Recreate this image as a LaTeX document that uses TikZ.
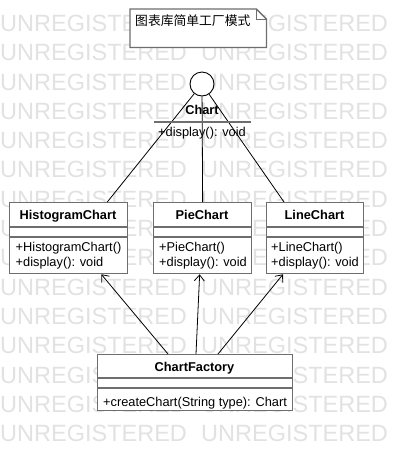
\documentclass[tikz,border=0pt]{standalone}
\usepackage{fontspec}
\setmainfont{Liberation Sans}
\newfontfamily\cjk{Noto Sans CJK SC}
\usetikzlibrary{arrows.meta}
\definecolor{boxgray}{RGB}{110,110,110}
\definecolor{wmgray}{RGB}{226,226,226}
\tikzset{
  classbox/.style={draw=boxgray, line width=1.3pt, fill=white, rectangle, inner sep=0pt, anchor=north west},
  sep/.style={draw=boxgray, line width=1.3pt},
  cname/.style={inner sep=0pt, anchor=base, font=\fontsize{12.8}{15}\selectfont\bfseries},
  meth/.style={inner sep=0pt, anchor=base west, font=\fontsize{12.8}{15}\selectfont},
  wm/.style={inner sep=0pt, anchor=base west, text=wmgray, font=\fontsize{23.5}{26}\selectfont},
  conn/.style={draw=black, line width=0.8pt},
  dep/.style={draw=black, line width=0.8pt, -{Straight Barb[length=6pt,width=10pt,line width=0.8pt]}}
}
\begin{document}
\begin{tikzpicture}[x=1pt,y=-1pt]
\useasboundingbox[fill=white] (0,0) rectangle (402,451);
% watermark
\foreach \i in {0,...,14}{
  \foreach \j/\xx in {0/0,1/201,2/402}{
    \node[wm] (wm-\i-\j) at (\xx,{31.4+29.3*\i}) {UNREGISTERED};
  }
}
% note
\node[rectangle, inner sep=0pt, minimum width=136pt, minimum height=38pt, anchor=north west] (note) at (130,9) {};
\coordinate (fa) at ([xshift=-10pt]note.north east);
\coordinate (fb) at ([yshift=-10pt]note.north east);
\coordinate (fc) at ([xshift=-10pt,yshift=-10pt]note.north east);
\filldraw[boxgray, fill=white, line width=1.3pt] (note.north west) -- (fa) -- (fb) -- (note.south east) -- (note.south west) -- cycle;
\draw[boxgray, line width=1pt] (fa) -- (fc) -- (fb);
\node[inner sep=0pt, anchor=west, font=\cjk\fontsize{12.8}{15}\selectfont] (notetext) at (135,20.5) {图表库简单工厂模式};
% interface Chart
\node[circle, draw=black, line width=0.9pt, fill=white, minimum size=24pt, inner sep=0pt] (chartc) at (202,84) {};
% classes
\node[classbox, minimum width=118pt, minimum height=71pt] (hist) at (9,202) {};
\node[classbox, minimum width=98pt, minimum height=71pt] (pie) at (153,202) {};
\node[classbox, minimum width=97pt, minimum height=71pt] (line) at (266,202) {};
\node[classbox, minimum width=195pt, minimum height=56pt] (fact) at (97,354) {};
% lines from interface
\draw[conn] (chartc) -- ([xshift=-21pt]hist.north east);
\draw[conn] (chartc) -- (pie.north);
\draw[conn] (chartc) -- ([xshift=18pt]line.north west);
\node[cname] (chartname) at (202,114) {Chart};
\coordinate (cl1) at (154,122);
\coordinate (cl2) at (251,122);
\draw[sep] (cl1) -- (cl2);
\node[inner sep=0pt, anchor=base, font=\fontsize{12.8}{15}\selectfont] (chartop) at (202,136.5) {+display(): void};
% compartments
\foreach \n in {hist,pie,line}{
  \draw[sep] ([yshift=-25pt]\n.north west) -- ([yshift=-25pt]\n.north east);
  \draw[sep] ([yshift=-35pt]\n.north west) -- ([yshift=-35pt]\n.north east);
}
\draw[sep] ([yshift=-24pt]fact.north west) -- ([yshift=-24pt]fact.north east);
\draw[sep] ([yshift=-34pt]fact.north west) -- ([yshift=-34pt]fact.north east);
% texts
\node[cname] (histname) at (68,219) {HistogramChart};
\node[meth] (histm1) at (15.5,251.5) {+HistogramChart()};
\node[meth] (histm2) at (15.5,266.5) {+display(): void};
\node[cname] (piename) at (202,219) {PieChart};
\node[meth] (piem1) at (159,251.5) {+PieChart()};
\node[meth] (piem2) at (159,266.5) {+display(): void};
\node[cname] (linename) at (314.5,219) {LineChart};
\node[meth] (linem1) at (271,251.5) {+LineChart()};
\node[meth] (linem2) at (271,266.5) {+display(): void};
\node[cname] (factname) at (194.5,371.5) {ChartFactory};
\node[meth] (factm1) at (103,406) {+createChart(String type): Chart};
% dependencies
\draw[dep] ([xshift=71pt]fact.north west) -- ([xshift=-27pt]hist.south east);
\draw[dep] ([xshift=99pt]fact.north west) -- ([xshift=-3pt]pie.south);
\draw[dep] ([xshift=121pt]fact.north west) -- ([xshift=17pt]line.south west);
\end{tikzpicture}
\end{document}
